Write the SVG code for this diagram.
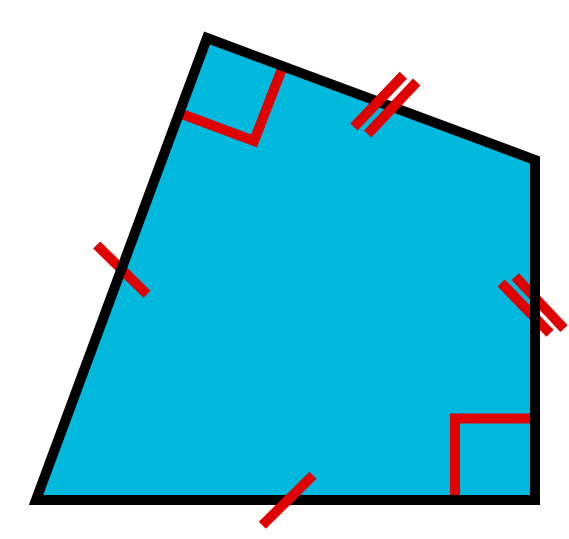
<svg xmlns="http://www.w3.org/2000/svg" width="569" height="539" viewBox="0 0 569 539">
<style>
.red{fill:none;stroke:#e00000;stroke-width:10;stroke-linecap:butt;stroke-linejoin:miter}
.edge{fill:none;stroke:#000;stroke-width:10;stroke-linejoin:miter}
</style>
<rect width="569" height="539" fill="#fff"/>
<g id="quad-fill">
<polygon points="207,38 535,160 535,500 36,500" fill="#00b9dd"/>
</g>
<g id="marks-under">
<polyline class="red" points="179,113 254,141 283,66"/>
<polyline class="red" points="455,500 455,418.5 535,418.5"/>
<line class="red" x1="96.7" y1="245" x2="147" y2="294.3"/>
<line class="red" x1="501.2" y1="283" x2="550" y2="333.3"/>
<line class="red" x1="515.3" y1="276.7" x2="564" y2="328.7"/>
</g>
<g id="quad-edge">
<polygon class="edge" points="207,38 535,160 535,500 36,500"/>
</g>
<g id="marks-over">
<line class="red" x1="403.3" y1="75.3" x2="354" y2="127"/>
<line class="red" x1="416.7" y1="82" x2="367.7" y2="134"/>
<line class="red" x1="313" y1="475.3" x2="262.3" y2="525.3"/>
</g>
</svg>
